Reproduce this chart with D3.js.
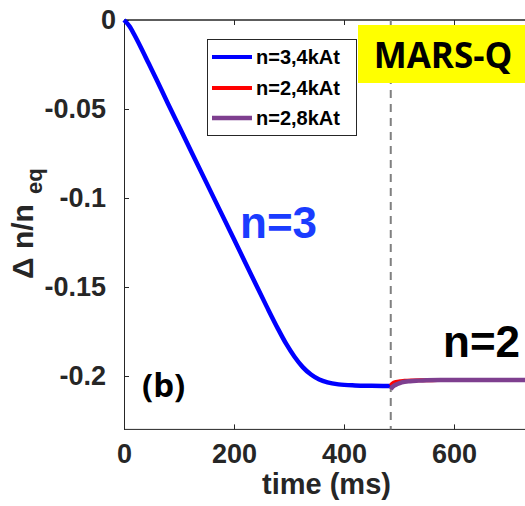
<!DOCTYPE html>
<html><head><meta charset="utf-8">
<script src="https://cdn.jsdelivr.net/npm/d3@7"></script>
<style>
html,body{margin:0;padding:0;background:#fff;}
svg{display:block;}
</style></head>
<body>
<svg id="chart" width="525" height="506"></svg>
<script>
// ---- data ----
const timeN3 = [0, 10, 20, 30, 45, 60, 80, 100, 150, 200, 233, 260, 280, 295, 310, 325, 340, 355, 370, 390, 420, 450, 485];
const valN3  = [0, -0.0035, -0.0090, -0.0150, -0.0245, -0.0340, -0.0470, -0.0597, -0.0915, -0.1232, -0.1442, -0.1613, -0.1735, -0.1820, -0.1892, -0.1950, -0.1992, -0.2020, -0.2036, -0.2047, -0.2053, -0.2055, -0.2056];
const timeN2a = [485, 487, 490, 495, 502, 510, 525, 540, 570, 600, 700, 800];
const valN2a  = [-0.2055, -0.2045, -0.2038, -0.2033, -0.2030, -0.2027, -0.2025, -0.2024, -0.2023, -0.2022, -0.2022, -0.2022];
const timeN2b = [485, 488, 492, 497, 505, 520, 535, 550, 575, 600, 700, 800];
const valN2b  = [-0.2075, -0.2062, -0.2052, -0.2045, -0.2036, -0.2029, -0.2026, -0.2024, -0.2023, -0.2023, -0.2022, -0.2022];
const seriesNames = ["n=3,4kAt", "n=2,4kAt", "n=2,8kAt"];
const seriesColors = ["#0000ff", "#ff0000", "#7e3f8f"];
const xTicks = [0, 200, 400, 600];
const yTicks = [0, -0.05, -0.1, -0.15, -0.2];
const yTickLabels = ["0", "-0.05", "-0.1", "-0.15", "-0.2"];
const switchTime = 485;

// ---- scales ----
const svg = d3.select("#chart");
const x = d3.scaleLinear().domain([0, 800]).range([124, 564]);
const y = d3.scaleLinear().domain([-0.23, 0]).range([429.4, 20]);
const axisColor = "#262626";
const tickFont = "'Liberation Sans Narrow','Arial Narrow','Liberation Sans',sans-serif";

// frame line (top)
svg.append("line").attr("x1", x(0)).attr("x2", 525).attr("y1", y(0)).attr("y2", y(0))
  .attr("stroke", axisColor).attr("stroke-width", 1);

// axes
const gx = svg.append("g").attr("transform", `translate(0,${y(-0.23)})`)
  .call(d3.axisBottom(x).tickValues(xTicks).tickFormat(d3.format("d")).tickSizeInner(-5).tickSizeOuter(0).tickPadding(14));
gx.select(".domain").attr("d", `M${x(0)},0H525`);
const gxTop = svg.append("g").attr("transform", `translate(0,${y(0)})`)
  .call(d3.axisTop(x).tickValues(xTicks).tickFormat("").tickSizeInner(-5).tickSizeOuter(0));
gxTop.select(".domain").attr("d", `M${x(0)},0H525`);
const gy = svg.append("g").attr("transform", `translate(${x(0)},0)`)
  .call(d3.axisLeft(y).tickValues(yTicks).tickFormat((d, i) => yTickLabels[i]).tickSizeInner(-5).tickSizeOuter(0).tickPadding(18));
[gx, gxTop, gy].forEach(g => {
  g.select(".domain").attr("stroke", axisColor).attr("stroke-width", 1);
  g.selectAll(".tick line").attr("stroke", axisColor).attr("stroke-width", 1);
  g.selectAll("text").attr("fill", axisColor).attr("font-family", tickFont)
    .attr("font-weight", "bold").attr("font-size", 27);
});
gy.selectAll(".tick text").filter(d => d === 0).attr("dx", 10);

// dashed vertical line
svg.append("line").attr("x1", x(switchTime)).attr("x2", x(switchTime))
  .attr("y1", y(0)).attr("y2", y(-0.23))
  .attr("stroke", "#808080").attr("stroke-width", 2).attr("stroke-dasharray", "8,6");

// lines
const line = d3.line().x(d => x(d[0])).y(d => y(d[1])).curve(d3.curveMonotoneX);
const zip = (a, b) => a.map((t, i) => [t, b[i]]);
svg.append("path").datum(zip(timeN3, valN3)).attr("d", line)
  .attr("fill", "none").attr("stroke", seriesColors[0]).attr("stroke-width", 4.5).attr("stroke-linejoin", "round");
svg.append("path").datum(zip(timeN2a, valN2a)).attr("d", line)
  .attr("fill", "none").attr("stroke", seriesColors[1]).attr("stroke-width", 4);
svg.append("path").datum(zip(timeN2b, valN2b)).attr("d", line)
  .attr("fill", "none").attr("stroke", seriesColors[2]).attr("stroke-width", 4.5);

// axis titles
svg.append("text").attr("x", (x(0) + 525) / 2 + 2).attr("y", 494).attr("text-anchor", "middle")
  .attr("font-family", tickFont).attr("font-weight", "bold").attr("font-size", 29).attr("fill", axisColor)
  .text("time (ms)");
const yl = svg.append("text").attr("transform", "translate(33,279) rotate(-90)")
  .attr("font-family", tickFont).attr("font-weight", "bold").attr("font-size", 30).attr("fill", axisColor);
yl.append("tspan").text("\u0394 n/n");
yl.append("tspan").attr("dx", 10).attr("dy", 9).attr("font-size", 22).text("eq");

// legend
const lg = svg.append("g");
lg.append("rect").attr("x", 207.5).attr("y", 39.5).attr("width", 149).attr("height", 96)
  .attr("fill", "#fff").attr("stroke", axisColor).attr("stroke-width", 1);
const rowsY = [57, 88, 118];
seriesNames.forEach((name, i) => {
  lg.append("line").attr("x1", 212).attr("x2", 252).attr("y1", rowsY[i]).attr("y2", rowsY[i])
    .attr("stroke", seriesColors[i]).attr("stroke-width", i === 2 ? 4.5 : 4);
  lg.append("text").attr("x", 256).attr("y", rowsY[i] + 7)
    .attr("font-family", tickFont).attr("font-weight", "bold").attr("font-size", 20).attr("fill", "#000")
    .text(name);
});

// MARS-Q box
svg.append("rect").attr("x", 358).attr("y", 25).attr("width", 170).attr("height", 58).attr("fill", "#ffff00");
svg.append("text").attr("x", 443).attr("y", 68).attr("text-anchor", "middle")
  .attr("font-family", "'Open Sans',sans-serif").attr("font-weight", "bold").attr("font-size", 35).attr("fill", "#000")
  .text("MARS-Q");

// annotations
svg.append("text").attr("x", 240).attr("y", 238)
  .attr("font-family", "'Liberation Sans',Arial,sans-serif").attr("font-weight", "bold").attr("font-size", 44)
  .attr("fill", "#1a3cff").text("n=3");
svg.append("text").attr("x", 443).attr("y", 357)
  .attr("font-family", "'Liberation Sans',Arial,sans-serif").attr("font-weight", "bold").attr("font-size", 44)
  .attr("fill", "#000").text("n=2");
svg.append("text").attr("x", 142).attr("y", 397)
  .attr("font-family", "'Open Sans',sans-serif").attr("font-weight", "bold").attr("font-size", 33)
  .attr("fill", "#000").text("(b)");
</script>
</body></html>
